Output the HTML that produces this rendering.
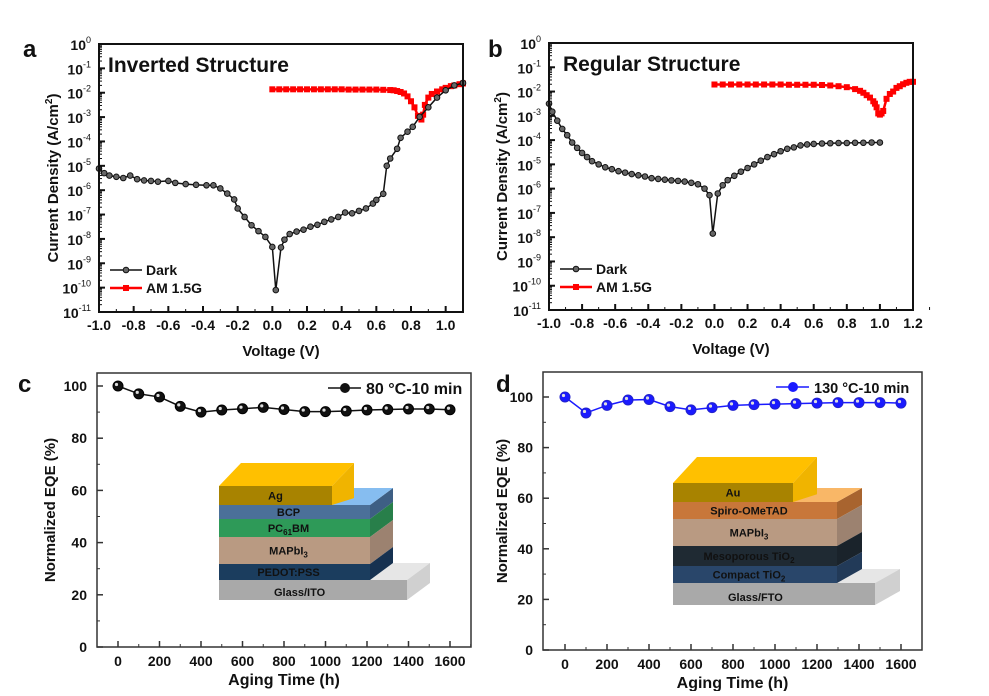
<!DOCTYPE html>
<html><head><meta charset="utf-8"><style>
body{margin:0;background:#fff;}
svg text{font-family:"Liberation Sans",sans-serif;font-weight:bold;fill:#111;}
</style></head><body>
<svg id="fig" width="989" height="691" xmlns="http://www.w3.org/2000/svg"></svg>
<script>
// ---- Panel a data ----
const aDarkV=[-1.0,-0.97,-0.94,-0.9,-0.86,-0.82,-0.78,-0.74,-0.7,-0.66,-0.6,-0.56,-0.5,-0.44,-0.38,-0.34,-0.3,-0.26,-0.22,-0.2,-0.16,-0.12,-0.08,-0.04,0.0,0.02,0.05,0.07,0.1,0.14,0.18,0.22,0.26,0.3,0.34,0.38,0.42,0.46,0.5,0.54,0.58,0.6,0.64,0.66,0.68,0.72,0.74,0.78,0.81,0.85,0.9,0.95,1.0,1.05,1.1];
const aDarkLogJ=[-5.11,-5.3,-5.4,-5.45,-5.5,-5.4,-5.55,-5.6,-5.62,-5.65,-5.62,-5.7,-5.75,-5.78,-5.8,-5.8,-5.93,-6.14,-6.38,-6.75,-7.1,-7.44,-7.68,-7.92,-8.33,-10.1,-8.35,-8.03,-7.8,-7.7,-7.62,-7.5,-7.42,-7.3,-7.2,-7.1,-6.92,-6.95,-6.85,-6.75,-6.55,-6.4,-6.15,-5.0,-4.7,-4.3,-3.85,-3.6,-3.4,-2.99,-2.6,-2.2,-1.9,-1.7,-1.6];
const aLightV=[0.0,0.04,0.08,0.12,0.16,0.2,0.24,0.28,0.32,0.36,0.4,0.44,0.48,0.52,0.56,0.6,0.64,0.68,0.7,0.72,0.74,0.76,0.78,0.8,0.82,0.84,0.86,0.87,0.88,0.9,0.92,0.95,0.98,1.0,1.03,1.05,1.08,1.1];
const aLightLogJ=[-1.86,-1.86,-1.86,-1.86,-1.86,-1.86,-1.86,-1.86,-1.86,-1.86,-1.86,-1.87,-1.87,-1.87,-1.87,-1.87,-1.88,-1.89,-1.9,-1.93,-1.97,-2.03,-2.15,-2.35,-2.6,-2.95,-3.1,-2.9,-2.5,-2.2,-2.05,-1.95,-1.86,-1.8,-1.73,-1.7,-1.65,-1.62];
// ---- Panel b data ----
const bDarkV=[-1.0,-0.98,-0.95,-0.92,-0.89,-0.86,-0.83,-0.8,-0.77,-0.74,-0.7,-0.66,-0.62,-0.58,-0.54,-0.5,-0.46,-0.42,-0.38,-0.34,-0.3,-0.26,-0.22,-0.18,-0.14,-0.1,-0.06,-0.03,-0.01,0.02,0.05,0.08,0.12,0.16,0.2,0.24,0.28,0.32,0.36,0.4,0.44,0.48,0.52,0.56,0.6,0.65,0.7,0.75,0.8,0.85,0.9,0.95,1.0];
const bDarkLogJ=[-2.5,-2.83,-3.2,-3.54,-3.8,-4.1,-4.32,-4.53,-4.7,-4.87,-5.0,-5.12,-5.2,-5.28,-5.34,-5.4,-5.45,-5.5,-5.57,-5.6,-5.63,-5.66,-5.68,-5.71,-5.76,-5.82,-6.0,-6.27,-7.85,-6.2,-5.86,-5.65,-5.47,-5.3,-5.15,-5.0,-4.85,-4.7,-4.58,-4.46,-4.36,-4.3,-4.22,-4.18,-4.16,-4.14,-4.13,-4.12,-4.12,-4.11,-4.11,-4.1,-4.1];
const bLightV=[0.0,0.05,0.1,0.15,0.2,0.25,0.3,0.35,0.4,0.45,0.5,0.55,0.6,0.65,0.7,0.75,0.8,0.85,0.88,0.9,0.92,0.94,0.96,0.97,0.98,0.99,1.0,1.01,1.02,1.04,1.06,1.08,1.1,1.12,1.14,1.16,1.18,1.2];
const bLightLogJ=[-1.71,-1.71,-1.71,-1.71,-1.71,-1.71,-1.71,-1.71,-1.71,-1.72,-1.72,-1.72,-1.72,-1.73,-1.75,-1.78,-1.82,-1.9,-1.97,-2.05,-2.15,-2.25,-2.4,-2.5,-2.65,-2.9,-2.95,-2.9,-2.8,-2.3,-2.1,-2.0,-1.85,-1.78,-1.7,-1.64,-1.6,-1.6];
// ---- Panels c,d data ----
const agingTimes=[0,100,200,300,400,500,600,700,800,900,1000,1100,1200,1300,1400,1500,1600];
const eqe80=[100,97.0,95.8,92.2,90.0,90.8,91.3,91.8,91.0,90.2,90.2,90.4,90.8,91.0,91.2,91.2,90.9];
const eqe130=[100,93.7,96.7,98.8,99.0,96.2,94.9,95.8,96.7,97.0,97.2,97.4,97.6,97.8,97.8,97.8,97.6];
const vTicksA=["-1.0","-0.8","-0.6","-0.4","-0.2","0.0","0.2","0.4","0.6","0.8","1.0"];
const vTicksB=["-1.0","-0.8","-0.6","-0.4","-0.2","0.0","0.2","0.4","0.6","0.8","1.0","1.2"];
const tTicks=["0","200","400","600","800","1000","1200","1400","1600"];
const eqeTicks=["0","20","40","60","80","100"];

const NS="http://www.w3.org/2000/svg";
const svg=document.getElementById('fig');
function el(tag,attrs,parent,txt){const e=document.createElementNS(NS,tag);for(const k in attrs)e.setAttribute(k,attrs[k]);if(txt!==undefined)e.textContent=txt;(parent||svg).appendChild(e);return e;}

function logPanel(id,box,xmin,xmax,ticks,darkV,darkJ,lightV,lightJ,title,titleX,legX,letter,letterX,ytX){
  const g=el('g',{});
  
  
  const sx=v=>box.l+(v-xmin)/(xmax-xmin)*(box.r-box.l);
  const sy=lg=>box.t+(0-lg)/11*(box.b-box.t);
  let d=lightV.map((v,i)=>(i?'L':'M')+sx(v)+' '+sy(lightJ[i])).join(' ');
  const lp=el('path',{d:d,fill:'none',stroke:'#f00','stroke-width':2.5},g);
  
  
  lightV.forEach((v,i)=>{const r=el('rect',{x:sx(v)-3,y:sy(lightJ[i])-3,width:6,height:6,fill:'#f00'},g);
    
    });
  d=darkV.map((v,i)=>(i?'L':'M')+sx(v)+' '+sy(darkJ[i])).join(' ');
  const dp=el('path',{d:d,fill:'none',stroke:'#111','stroke-width':1.5},g);
  
  
  darkV.forEach((v,i)=>{const c=el('circle',{cx:sx(v),cy:sy(darkJ[i]),r:2.8,fill:'#666',stroke:'#111','stroke-width':1},g);
    
    });
  const fr=el('rect',{x:box.l,y:box.t,width:box.r-box.l,height:box.b-box.t,fill:'none',stroke:'#111','stroke-width':2},g);
  
  
  for(let k=0;k<=11;k++){const y=sy(-k);
    el('line',{x1:box.l,x2:box.l+6,y1:y,y2:y,stroke:'#111','stroke-width':2},g);
    for(let m=2;m<10&&k<11;m++){const ym=sy(-k-1+Math.log10(m));el('line',{x1:box.l,x2:box.l+3,y1:ym,y2:ym,stroke:'#111','stroke-width':1},g);}
    const t=el('text',{x:box.l-8,y:y+6,'font-size':14,'text-anchor':'end'},g);
    
    
    el('tspan',{},t,'10');
    el('tspan',{dy:-7,'font-size':9,'font-weight':'normal'},t,k===0?'0':'-'+k);
  }
  ticks.forEach(s=>{const v=parseFloat(s);const x=sx(v);
    el('line',{x1:x,x2:x,y1:box.b,y2:box.b-6,stroke:'#111','stroke-width':2},g);
    el('line',{x1:sx(v+0.1),x2:sx(v+0.1),y1:box.b,y2:box.b-3,stroke:'#111','stroke-width':1},g);
    const t=el('text',{x:x,y:box.b+18,'font-size':14,'text-anchor':'middle'},g,s);
    
    
  });
  const xt=el('text',{x:(box.l+box.r)/2,y:box.b+44,'font-size':15,'text-anchor':'middle'},g,'Voltage (V)');
  
  
  const yt=el('text',{x:0,y:0,'font-size':15,'text-anchor':'middle',transform:`translate(${ytX},${(box.t+box.b)/2}) rotate(-90)`},g);
  
  
  el('tspan',{},yt,'Current Density (A/cm');el('tspan',{dy:-6,'font-size':10},yt,'2');el('tspan',{dy:6},yt,')');
  const tt=el('text',{x:titleX,y:box.t+28,'font-size':21},g,title);
  
  
  const ly1=box.t+226,ly2=box.t+244;
  const lg=el('g',{},g);
  
  
  el('line',{x1:legX,x2:legX+32,y1:ly1,y2:ly1,stroke:'#111','stroke-width':1.5},lg);
  el('circle',{cx:legX+16,cy:ly1,r:2.8,fill:'#666',stroke:'#111'},lg);
  el('text',{x:legX+36,y:ly1+5,'font-size':14},lg,'Dark');
  el('line',{x1:legX,x2:legX+32,y1:ly2,y2:ly2,stroke:'#f00','stroke-width':2.5},lg);
  el('rect',{x:legX+13,y:ly2-3,width:6,height:6,fill:'#f00'},lg);
  el('text',{x:legX+36,y:ly2+5,'font-size':14},lg,'AM 1.5G');
  const pl=el('text',{x:letterX,y:57,'font-size':24},g,letter);
  
  
}
logPanel('panel-a-inverted-jv',{l:99,r:463,t:44,b:312},-1.0,1.1,vTicksA,aDarkV,aDarkLogJ,aLightV,aLightLogJ,'Inverted Structure',108,110,'a',23,58);
logPanel('panel-b-regular-jv',{l:549,r:913,t:43,b:310},-1.0,1.2,vTicksB,bDarkV,bDarkLogJ,bLightV,bLightLogJ,'Regular Structure',563,560,'b',488,507);

function eqePanel(id,box,x0px,x1600px,y0px,y100px,vals,color,legText,legX,legFs,letter,letterX,letterY,ytX){
  const g=el('g',{});
  
  
  const sx=t=>x0px+t/1600*(x1600px-x0px);
  const sy=v=>y0px-v/100*(y0px-y100px);
  const fr=el('rect',{x:box.l,y:box.t,width:box.r-box.l,height:box.b-box.t,fill:'none',stroke:'#333','stroke-width':1.5},g);
  
  
  eqeTicks.forEach(s=>{const v=+s;const y=sy(v);
    el('line',{x1:box.l,x2:box.l+6,y1:y,y2:y,stroke:'#333','stroke-width':1.5},g);
    if(v<100){const ym=sy(v+10);el('line',{x1:box.l,x2:box.l+3,y1:ym,y2:ym,stroke:'#333'},g);}
    const t=el('text',{x:box.l-10,y:y+5,'font-size':14,'text-anchor':'end'},g,s);
    
    });
  tTicks.forEach(s=>{const v=+s;const x=sx(v);
    el('line',{x1:x,x2:x,y1:box.b,y2:box.b-6,stroke:'#333','stroke-width':1.5},g);
    el('line',{x1:sx(v+100),x2:sx(v+100),y1:box.b,y2:box.b-3,stroke:'#333'},g);
    const t=el('text',{x:x,y:box.b+19,'font-size':14,'text-anchor':'middle'},g,s);
    
    });
  const xt=el('text',{x:(box.l+box.r)/2,y:box.b+38,'font-size':16,'text-anchor':'middle'},g,'Aging Time (h)');
  
  
  const yt=el('text',{x:0,y:0,'font-size':15,'text-anchor':'middle',transform:`translate(${ytX},${(box.t+box.b)/2}) rotate(-90)`},g,'Normalized EQE (%)');
  
  
  const d=agingTimes.map((t,i)=>(i?'L':'M')+sx(t)+' '+sy(vals[i])).join(' ');
  const p=el('path',{d:d,fill:'none',stroke:color,'stroke-width':1.5},g);
  
  
  agingTimes.forEach((t,i)=>{const c=el('circle',{cx:sx(t),cy:sy(vals[i]),r:5,fill:color,stroke:color==='#111'?'#000':'#22c'},g);
    
    
    el('circle',{cx:sx(t)-1.5,cy:sy(vals[i])-1.5,r:1.6,fill:'#ddd'},g);});
  const ly=box.t+15;
  const lg=el('g',{},g);
  
  
  el('line',{x1:legX,x2:legX+33,y1:ly,y2:ly,stroke:color,'stroke-width':1.5},lg);
  el('circle',{cx:legX+17,cy:ly,r:5,fill:color},lg);
  el('text',{x:legX+38,y:ly+6,'font-size':legFs},lg,legText);
  const pl=el('text',{x:letterX,y:letterY,'font-size':24},g,letter);
  
  
}
eqePanel('panel-c-eqe-80c',{l:97,r:471,t:373,b:647},118,450,647,386,eqe80,'#111','80 °C-10 min',328,16,'c',18,392,55);
eqePanel('panel-d-eqe-130c',{l:543,r:922,t:372,b:650},565,901,650,397,eqe130,'#1a1aff','130 °C-10 min',776,14.5,'d',496,392,507);

function stack(id,L,R,dx,dy,layers,top,glass){
  const g=el('g',{});
  
  
  el('polygon',{points:`${L},${glass.y0} ${glass.r},${glass.y0} ${glass.r+dx},${glass.y0+dy} ${L+dx},${glass.y0+dy}`,fill:'#e6e6e6'},g);
  el('polygon',{points:`${glass.r},${glass.y0} ${glass.r+dx},${glass.y0+dy} ${glass.r+dx},${glass.y1+dy} ${glass.r},${glass.y1}`,fill:'#d0d0d0'},g);
  el('rect',{x:L,y:glass.y0,width:glass.r-L,height:glass.y1-glass.y0,fill:'#a9a9a9'},g);
  el('text',{x:L+55,y:glass.y1-4,'font-size':11,fill:'#222'},g,glass.name);
  layers.forEach(ly=>{
    el('polygon',{points:`${R},${ly.y0} ${R+dx},${ly.y0+dy} ${R+dx},${ly.y1+dy} ${R},${ly.y1}`,fill:ly.side},g);
    el('rect',{x:L,y:ly.y0,width:R-L,height:ly.y1-ly.y0,fill:ly.c},g);
    const t=el('text',{x:(L+R)/2-6,y:(ly.y0+ly.y1)/2+4,'font-size':11,'text-anchor':'middle',fill:'#111'},g);
    
    
    ly.n.forEach((p,i)=>{if(i%2===0)el('tspan',{dy:i?-3:0,'font-size':11},t,p);else el('tspan',{dy:3,'font-size':8},t,p);});
  });
  const tl=layers[0].y0;
  el('polygon',{points:`${L},${tl} ${R},${tl} ${R+dx},${tl+dy} ${L+dx},${tl+dy}`,fill:top.under},g);
  el('polygon',{points:`${L},${top.y0} ${top.r},${top.y0} ${top.r+top.dx},${top.y0+top.dy} ${L+top.dx},${top.y0+top.dy}`,fill:'#ffc000'},g);
  el('polygon',{points:`${top.r},${top.y0} ${top.r+top.dx},${top.y0+top.dy} ${top.r+top.dx},${tl+top.dy*0.3} ${top.r},${tl}`,fill:'#f0b400'},g);
  el('rect',{x:L,y:top.y0,width:top.r-L,height:tl-top.y0,fill:'#a88300'},g);
  el('text',{x:(L+top.r)/2,y:(top.y0+tl)/2+4,'font-size':11,'text-anchor':'middle',fill:'#111'},g,top.name);
}
stack('inset-inverted-device',219,370,23,-17,[
 {y0:505,y1:519,c:'#4b7099',side:'#3e5f84',n:['BCP']},
 {y0:519,y1:537,c:'#2e9a58',side:'#287f4a',n:['PC','61','BM']},
 {y0:537,y1:564,c:'#b99a82',side:'#9c8270',n:['MAPbI','3']},
 {y0:564,y1:580,c:'#1b3d5e',side:'#163150',n:['PEDOT:PSS']}],
 {y0:486,r:332,dx:22,dy:-23,under:'#86bdf0',name:'Ag'},
 {y0:580,y1:600,r:407,name:'Glass/ITO'});
stack('inset-regular-device',673,837,25,-14,[
 {y0:502,y1:519,c:'#c8773a',side:'#a8642f',n:['Spiro-OMeTAD']},
 {y0:519,y1:546,c:'#b99a82',side:'#9c8270',n:['MAPbI','3']},
 {y0:546,y1:566,c:'#1f2a33',side:'#1a232b',n:['Mesoporous TiO','2']},
 {y0:566,y1:583,c:'#29466a',side:'#223a58',n:['Compact TiO','2']}],
 {y0:483,r:793,dx:24,dy:-26,under:'#f9b767',name:'Au'},
 {y0:583,y1:605,r:875,name:'Glass/FTO'});
</script>
</body></html>
